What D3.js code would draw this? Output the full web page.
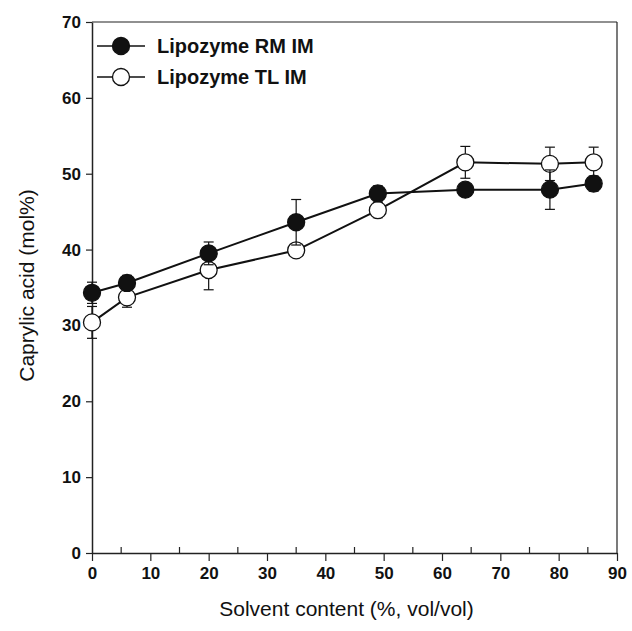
<!DOCTYPE html>
<html>
<head>
<meta charset="utf-8">
<script src="https://cdn.jsdelivr.net/npm/d3@7"></script>
<style>
  body { margin: 0; background: #fff; }
  svg { font-family: "Liberation Sans", Arial, sans-serif; }
</style>
</head>
<body>
<div id="chart"></div>
<script>
// data
var solvent = [0, 6, 20, 35, 49, 64, 78.5, 86];
var rmVals = [34.3, 35.6, 39.5, 43.6, 47.4, 47.9, 47.9, 48.7];
var rmErr = [1.4, 1.0, 1.5, 3.0, 1.0, 0.8, 2.6, 1.0];
var tlVals = [30.4, 33.7, 37.3, 39.9, 45.2, 51.5, 51.3, 51.5];
var tlErr = [2.1, 1.3, 2.6, 0.5, 1.0, 2.1, 2.2, 2.0];
var xTicks = [0, 10, 20, 30, 40, 50, 60, 70, 80, 90];
var xMinor = [5, 15, 25, 35, 45, 55, 65, 75, 85];
var yTicks = [0, 10, 20, 30, 40, 50, 60, 70];
var seriesNames = ["Lipozyme RM IM", "Lipozyme TL IM"];

var margin = { top: 22, right: 15, bottom: 78, left: 92 },
    width = 632 - margin.left - margin.right,
    height = 631 - margin.top - margin.bottom;

var svg = d3.select("#chart")
    .append("svg")
    .attr("width", 632)
    .attr("height", 631)
    .append("g")
    .attr("transform", "translate(" + margin.left + "," + margin.top + ")");

var x = d3.scaleLinear().domain([0, 90]).range([0, width]);
var y = d3.scaleLinear().domain([0, 70]).range([height, 0]);

// frame (top and right)
svg.append("line").attr("x1", 0).attr("x2", width).attr("y1", 0).attr("y2", 0)
    .attr("stroke", "#222").attr("stroke-width", 1.2);
svg.append("line").attr("x1", width).attr("x2", width).attr("y1", 0).attr("y2", height)
    .attr("stroke", "#222").attr("stroke-width", 1.2);

// X axis, major ticks outside
var xAxis = svg.append("g")
    .attr("transform", "translate(0," + height + ")")
    .call(d3.axisBottom(x).tickValues(xTicks).tickSize(8).tickSizeOuter(0).tickPadding(6));
xAxis.selectAll("text").style("font-size", "17px").style("font-weight", "bold").attr("fill", "#111");

// minor ticks inside
svg.append("g").selectAll("line")
    .data(xMinor).enter().append("line")
    .attr("x1", function (d) { return x(d); })
    .attr("x2", function (d) { return x(d); })
    .attr("y1", height).attr("y2", height - 6)
    .attr("stroke", "#222").attr("stroke-width", 1.2);

// Y axis
var yAxis = svg.append("g")
    .call(d3.axisLeft(y).tickValues(yTicks).tickSize(6).tickSizeOuter(0).tickPadding(5));
yAxis.selectAll("text").style("font-size", "17px").style("font-weight", "bold").attr("fill", "#111");

svg.selectAll(".domain").attr("stroke", "#222").attr("stroke-width", 1.5);
svg.selectAll(".tick line").attr("stroke", "#222").attr("stroke-width", 1.2);

// axis titles
svg.append("text")
    .attr("x", width / 2 - 8)
    .attr("y", height + 63)
    .attr("text-anchor", "middle")
    .style("font-size", "21px")
    .attr("fill", "#111")
    .text("Solvent content (%, vol/vol)");

svg.append("text")
    .attr("transform", "rotate(-90)")
    .attr("x", -height / 2 + 2)
    .attr("y", -58)
    .attr("text-anchor", "middle")
    .style("font-size", "21px")
    .attr("fill", "#111")
    .text("Caprylic acid (mol%)");

var line = d3.line()
    .x(function (d) { return x(d[0]); })
    .y(function (d) { return y(d[1]); });

function drawSeries(vals, errs, fill) {
    var pts = solvent.map(function (s, i) { return [s, vals[i], errs[i]]; });
    var g = svg.append("g");
    // error bars
    var eb = g.selectAll(".eb").data(pts).enter().append("g");
    eb.append("line")
        .attr("x1", function (d) { return x(d[0]); })
        .attr("x2", function (d) { return x(d[0]); })
        .attr("y1", function (d) { return y(d[1] - d[2]); })
        .attr("y2", function (d) { return y(d[1] + d[2]); })
        .attr("stroke", "#111").attr("stroke-width", 1.2);
    [-1, 1].forEach(function (sgn) {
        eb.append("line")
            .attr("x1", function (d) { return x(d[0]) - 5; })
            .attr("x2", function (d) { return x(d[0]) + 5; })
            .attr("y1", function (d) { return y(d[1] + sgn * d[2]); })
            .attr("y2", function (d) { return y(d[1] + sgn * d[2]); })
            .attr("stroke", "#111").attr("stroke-width", 1.2);
    });
    g.append("path")
        .datum(pts)
        .attr("d", line)
        .attr("fill", "none")
        .attr("stroke", "#111")
        .attr("stroke-width", 2);
    g.selectAll("circle").data(pts).enter().append("circle")
        .attr("cx", function (d) { return x(d[0]); })
        .attr("cy", function (d) { return y(d[1]); })
        .attr("r", 8.5)
        .attr("fill", fill)
        .attr("stroke", "#111")
        .attr("stroke-width", 1.3);
}

drawSeries(tlVals, tlErr, "#fff");
drawSeries(rmVals, rmErr, "#111");

// legend
var legend = svg.append("g");
seriesNames.forEach(function (name, i) {
    var ly = 24 + i * 31;
    legend.append("line")
        .attr("x1", 5).attr("x2", 53).attr("y1", ly).attr("y2", ly)
        .attr("stroke", "#111").attr("stroke-width", 1.5);
    legend.append("circle")
        .attr("cx", 29).attr("cy", ly).attr("r", 8.5)
        .attr("fill", i == 0 ? "#111" : "#fff")
        .attr("stroke", "#111").attr("stroke-width", 1.3);
    legend.append("text")
        .attr("x", 65).attr("y", ly + 7)
        .style("font-size", "20px")
        .style("font-weight", "bold")
        .attr("fill", "#111")
        .text(name);
});
</script>
</body>
</html>
